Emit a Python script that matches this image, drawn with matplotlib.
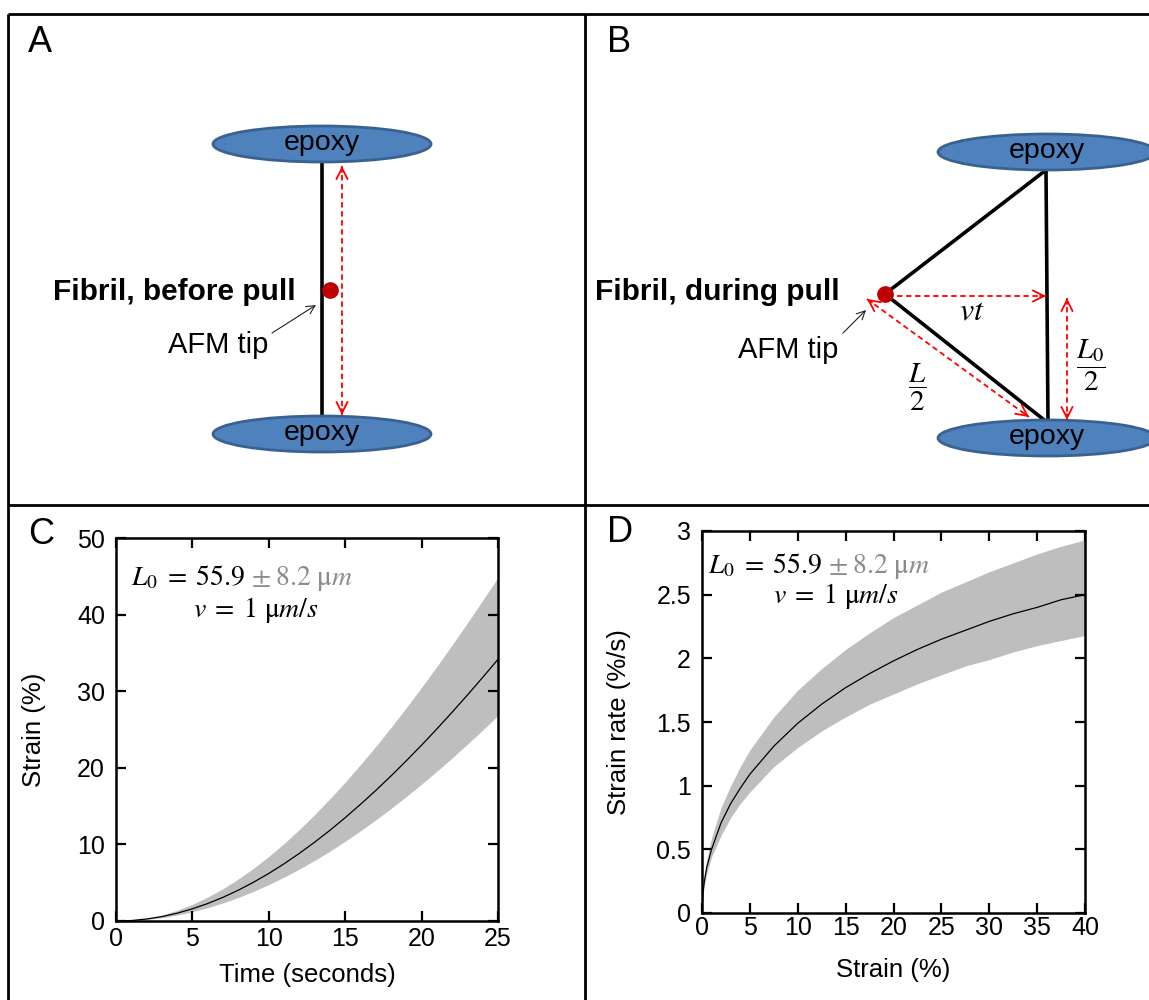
import numpy as np
import matplotlib
matplotlib.use("Agg")
import matplotlib.pyplot as plt
from matplotlib.patches import Ellipse

plt.rcParams['font.family'] = ['Liberation Sans', 'DejaVu Sans']
plt.rcParams['mathtext.fontset'] = 'stix'

# ---------------- data ----------------
time_s = [0, 1, 2, 3, 4, 5, 6, 7, 8, 9, 10, 11, 12, 13, 14, 15, 16, 17, 18,
          19, 20, 21, 22, 23, 24, 25]
strain_mean = [0, 0.06, 0.26, 0.57, 1.02, 1.59, 2.28, 3.09, 4.02, 5.06, 6.21,
               7.47, 8.83, 10.29, 11.84, 13.49, 15.23, 17.04, 18.94, 20.92,
               22.96, 25.08, 27.26, 29.50, 31.81, 34.16]
strain_upper = [0, 0.09, 0.35, 0.79, 1.40, 2.17, 3.12, 4.22, 5.48, 6.88, 8.43,
                10.12, 11.94, 13.89, 15.96, 18.13, 20.42, 22.80, 25.28, 27.85,
                30.51, 33.24, 36.05, 38.92, 41.87, 44.87]
strain_lower = [0, 0.05, 0.19, 0.44, 0.78, 1.21, 1.74, 2.36, 3.07, 3.87, 4.76,
                5.73, 6.78, 7.91, 9.12, 10.41, 11.77, 13.20, 14.69, 16.25,
                17.87, 19.55, 21.29, 23.09, 24.93, 26.83]

strain_pct = [0, 0.1, 0.25, 0.5, 1, 2, 3, 4, 5, 7.5, 10, 12.5, 15, 17.5, 20,
              22.5, 25, 27.5, 30, 32.5, 35, 37.5, 40]
rate_mean = [0, 0.16, 0.25, 0.36, 0.50, 0.71, 0.86, 0.98, 1.09, 1.31, 1.49,
             1.64, 1.77, 1.88, 1.98, 2.07, 2.15, 2.22, 2.29, 2.35, 2.40, 2.46,
             2.50]
rate_upper = [0, 0.19, 0.30, 0.42, 0.59, 0.83, 1.00, 1.15, 1.28, 1.54, 1.75,
              1.92, 2.07, 2.20, 2.32, 2.42, 2.52, 2.60, 2.68, 2.75, 2.82, 2.88,
              2.93]
rate_lower = [0, 0.14, 0.22, 0.31, 0.44, 0.61, 0.75, 0.86, 0.95, 1.15, 1.30,
              1.43, 1.54, 1.64, 1.72, 1.80, 1.87, 1.94, 1.99, 2.05, 2.10, 2.14,
              2.18]

c_xticks = [0, 5, 10, 15, 20, 25]
c_yticks = [0, 10, 20, 30, 40, 50]
d_xticks = [0, 5, 10, 15, 20, 25, 30, 35, 40]
d_yticks = [0, 0.5, 1, 1.5, 2, 2.5, 3]
d_yticklabels = ['0', '0.5', '1', '1.5', '2', '2.5', '3']

W, H = 1149, 1000
fig = plt.figure(figsize=(W / 100, H / 100), dpi=100)

# ---------------- overlay for schematic panels ----------------
ov = fig.add_axes([0, 0, 1, 1])
ov.set_xlim(0, W)
ov.set_ylim(H, 0)
ov.axis('off')

blk = 'black'
bw = 2.0
for (x0, y0, x1, y1) in [(8, 14, W, 14), (8, 14, 8, H), (585, 14, 585, H),
                         (8, 505, W, 505)]:
    ov.plot([x0, x1], [y0, y1], color=blk, lw=bw, solid_capstyle='butt')

ell_face = '#4F81BD'
ell_edge = '#3A6291'


def ellipse(cx, cy):
    ov.add_patch(Ellipse((cx, cy), 218, 36, facecolor=ell_face,
                         edgecolor=ell_edge, lw=2, zorder=2))
    ov.text(cx, cy - 1, 'epoxy', ha='center', va='center', fontsize=20.5,
            zorder=3)


def red_arrow(p0, p1, start_head=True, end_head=True):
    x0, y0 = p0
    x1, y1 = p1
    ov.plot([x0, x1], [y0, y1], color='red', lw=1.3, ls=(0, (3, 2)), zorder=4)
    d = np.array([x1 - x0, y1 - y0], float)
    d /= np.hypot(*d)
    style = '->,head_length=0.8,head_width=0.4'
    if end_head:
        ov.annotate('', xy=(x1, y1), xytext=(x1 - 6 * d[0], y1 - 6 * d[1]),
                    arrowprops=dict(arrowstyle=style, color='red', lw=1.3,
                                    shrinkA=0, shrinkB=0), zorder=4)
    if start_head:
        ov.annotate('', xy=(x0, y0), xytext=(x0 + 6 * d[0], y0 + 6 * d[1]),
                    arrowprops=dict(arrowstyle=style, color='red', lw=1.3,
                                    shrinkA=0, shrinkB=0), zorder=4)


def thin_arrow(p0, p1):
    ov.annotate('', xy=p1, xytext=p0,
                arrowprops=dict(arrowstyle='->,head_length=0.6,head_width=0.3',
                                color='#222222', lw=0.8, shrinkA=0, shrinkB=0))


# Panel A
ov.text(28, 42, 'A', fontsize=26, va='center', ha='left')
ov.plot([322, 322], [162, 417], color=blk, lw=2.6, zorder=1)
ellipse(322, 144)
ellipse(322, 434)
red_arrow((342, 166), (342, 415))
ov.plot([330], [290], 'o', color='#C00000', ms=11, zorder=5)
ov.text(296, 292, 'Fibril, before pull', fontsize=21.5, fontweight='bold',
        ha='right', va='center')
ov.text(268, 345, 'AFM tip', fontsize=21, ha='right', va='center')
thin_arrow((272, 333), (316, 305))

# Panel B
ov.text(607, 42, 'B', fontsize=26, va='center', ha='left')
tip = (885, 294)
top_v = (1046, 170)
bot_v = (1048, 423)
ov.plot([top_v[0], tip[0], bot_v[0], top_v[0]],
        [top_v[1], tip[1], bot_v[1], top_v[1]], color=blk, lw=2.6,
        solid_joinstyle='miter', zorder=1)
ellipse(1047, 152)
ellipse(1047, 438)
ov.plot([tip[0]], [tip[1]], 'o', color='#C00000', ms=11, zorder=5)
red_arrow((888, 296), (1046, 296), start_head=False)
red_arrow((1067, 298), (1067, 420))
red_arrow((867, 299), (1029, 417))
ov.text(972, 311, r'$vt$', fontsize=23, ha='center', va='center')
ov.text(917, 387, r'$\dfrac{L}{2}$', fontsize=21, ha='center', va='center')
ov.text(1091, 365, r'$\dfrac{L_0}{2}$', fontsize=21, ha='center',
        va='center')
ov.text(840, 292, 'Fibril, during pull', fontsize=21.5, fontweight='bold',
        ha='right', va='center')
ov.text(838, 350, 'AFM tip', fontsize=21, ha='right', va='center')
thin_arrow((843, 333), (866, 310))

ov.text(28, 535, 'C', fontsize=26, va='center', ha='left')
ov.text(607, 533, 'D', fontsize=26, va='center', ha='left')


# ---------------- chart panels ----------------
def style_axes(ax):
    for s in ax.spines.values():
        s.set_linewidth(1.8)
    ax.tick_params(direction='in', length=7, width=1.6, top=True, right=True,
                   labelsize=18)
    ax.tick_params(axis='y', pad=8)
    ax.tick_params(axis='x', pad=4)


def px_axes(left, top, right, bottom):
    return fig.add_axes([left / W, 1 - bottom / H, (right - left) / W,
                         (bottom - top) / H])


gray = '#BEBEBE'
axC = px_axes(116, 538, 498, 921)
axC.fill_between(time_s, strain_lower, strain_upper, color=gray, lw=0)
axC.plot(time_s, strain_mean, color='black', lw=0.9)
axC.set_xlim(0, 25)
axC.set_ylim(0, 50)
axC.set_xticks(c_xticks)
axC.set_yticks(c_yticks)
style_axes(axC)
axC.set_xlabel('Time (seconds)', fontsize=18.5, labelpad=9)
axC.set_ylabel('Strain (%)', fontsize=18.5, labelpad=22)

axD = px_axes(702, 531, 1085, 913)
axD.fill_between(strain_pct, rate_lower, rate_upper, color=gray, lw=0)
axD.plot(strain_pct, rate_mean, color='black', lw=0.9)
axD.set_xlim(0, 40)
axD.set_ylim(0, 3)
axD.set_xticks(d_xticks)
axD.set_yticks(d_yticks)
axD.set_yticklabels(d_yticklabels)
style_axes(axD)
axD.tick_params(axis='x', pad=2)
axD.set_xlabel('Strain (%)', fontsize=18.5, labelpad=13)
axD.set_ylabel('Strain rate (%/s)', fontsize=18.5, labelpad=18)

fig.canvas.draw()
renderer = fig.canvas.get_renderer()


def param_text(ax, x_px, y_base_px, x2_px, y2_base_px):
    inv = ax.transAxes.inverted()
    xa, ya = inv.transform((x_px, H - y_base_px))
    t1 = ax.text(xa, ya, r'$L_0\;=\;55.9$', transform=ax.transAxes,
                 fontsize=20, ha='left', va='baseline', color='black')
    bb = t1.get_window_extent(renderer)
    xb, _ = inv.transform((bb.x1 + 6, 0))
    ax.text(xb, ya, r'$\pm\;8.2\ \mathrm{\mu}m$', transform=ax.transAxes,
            fontsize=20, ha='left', va='baseline', color='#8C8C8C')
    xc, yc = inv.transform((x2_px, H - y2_base_px))
    ax.text(xc, yc, r'$v\;=\;1\ \mathrm{\mu}m/s$', transform=ax.transAxes,
            fontsize=20, ha='left', va='baseline', color='black')


param_text(axC, 131, 585, 193, 617)
param_text(axD, 708, 573, 773, 603)

fig.savefig('out.png', dpi=100)
